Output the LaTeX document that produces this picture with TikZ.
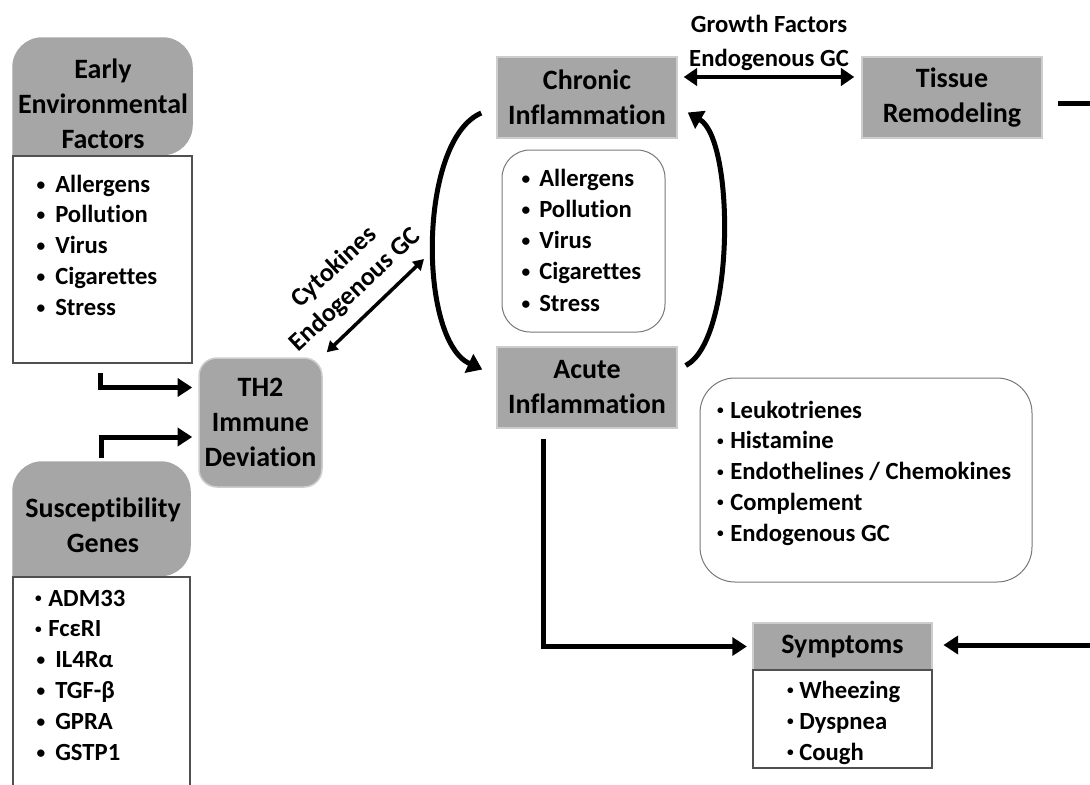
\documentclass[tikz,border=0pt]{standalone}
\usepackage{fontspec}
\setmainfont{Carlito}[Ligatures={NoCommon,NoContextual}]
\usetikzlibrary{arrows.meta,calc,backgrounds}
\newdimen\pxu \pxu=0.75pt
\definecolor{boxgray}{RGB}{166,166,166}
\definecolor{edgegray}{RGB}{205,205,205}
\definecolor{linegray}{RGB}{80,80,80}
\definecolor{softgray}{RGB}{120,120,120}
\newcommand\bigbul{\raisebox{1.4pt}{\fontsize{13}{13}\selectfont\textbullet}}
\newcommand\smallbul{\raisebox{2.6pt}{\fontsize{10}{10}\selectfont\textbullet}}
\begin{document}
\begin{tikzpicture}[x=0.75pt,y=-0.75pt,
  hdr/.style={font=\bfseries\fontsize{21}{26.25}\selectfont, align=center, inner sep=0},
  graybox/.style={hdr, fill=boxgray, draw=edgegray, line width=1.5\pxu, minimum width=180\pxu, minimum height=81\pxu},
  whitebox/.style={draw=linegray, line width=1.5\pxu, fill=white, inner sep=0},
  softbox/.style={draw=softgray, line width=1\pxu, inner sep=0},
  item/.style={font=\bfseries\fontsize{18.5}{22}\selectfont, anchor=base west, inner sep=0},
  lab/.style={font=\bfseries\fontsize{18.5}{25.5}\selectfont, align=center, inner sep=0},
  rlab/.style={font=\bfseries\fontsize{19.5}{23.25}\selectfont, align=center, inner sep=0},
  arr/.style={line width=5\pxu, -{Triangle[length=11pt,width=13.5pt]}},
  darr/.style={line width=4.5\pxu, {Triangle[length=10pt,width=13pt]}-{Triangle[length=10pt,width=13pt]}},
  thinarr/.style={line width=3.5\pxu, {Triangle[length=8pt,width=9pt]}-{Triangle[length=8pt,width=9pt]}},
  curvarr/.style={line width=5\pxu, -{Triangle[length=11pt,width=15pt]}},
  plainline/.style={line width=5\pxu}
]
\useasboundingbox (0,0) rectangle (1090,785);

% ---------- Early Environmental Factors ----------
\node[whitebox, minimum width=179\pxu, minimum height=207\pxu] (earlyB) at (102.5,259.5) {};
\node[hdr] (earlyH) at (103,104) {Early\\Environmental\\Factors};
\foreach \t [count=\i] in {Allergens,Pollution,Virus,Cigarettes,Stress}
  \node[item] (ee\i) at (55,{192+30.75*(\i-1)}) {\llap{\bigbul\kern10\pxu}\t};

% ---------- Susceptibility Genes ----------
\node[whitebox, minimum width=177\pxu, minimum height=226\pxu] (suscB) at (101.5,690) {};
\node[hdr] (suscH) at (103,525.5) {Susceptibility\\Genes};
\node[item] (sg1) at (48,606) {\llap{\smallbul\kern6.5\pxu}ADM33};
\node[item] (sg2) at (48,636.8) {\llap{\smallbul\kern6.5\pxu}FcεRI};
\foreach \t [count=\i from 3] in {IL4Rα, TGF-β, GPRA, GSTP1}
  \node[item] (sg\i) at (55,{606+30.8*(\i-1)}) {\llap{\bigbul\kern10\pxu}\t};

\begin{scope}[on background layer]
  \fill[boxgray] (earlyB.north west) [rounded corners=30\pxu] |- ($(earlyB.north)+(0,-118)$) -| (earlyB.north east) [sharp corners] -- cycle;
  \fill[boxgray] (suscB.north west) [rounded corners=30\pxu] |- ($(suscB.north)+(0,-115)$) -| (suscB.north east) [sharp corners] -- cycle;
\end{scope}

% ---------- TH2 ----------
\node[hdr, fill=boxgray, draw=edgegray, line width=1.5\pxu, rounded corners=18\pxu,
      minimum width=123\pxu, minimum height=129\pxu] (th2) at (260.5,422.5) {TH2\\Immune\\Deviation};

% ---------- Inflammation boxes ----------
\node[graybox] (chronic) at (587,97.5) {Chronic\\Inflammation};
\node[graybox] (acute) at (587,387.5) {Acute\\Inflammation};
\node[graybox] (tissue) at (952,97.5) {Tissue\\Remodeling};

% middle list
\node[softbox, rounded corners=28\pxu, minimum width=163\pxu, minimum height=182\pxu] (chlist) at (583.5,241) {};
\foreach \t [count=\i] in {Allergens,Pollution,Virus,Cigarettes,Stress}
  \node[item] (cl\i) at (539,{186+31.25*(\i-1)}) {\llap{\bigbul\kern9\pxu}\t};

% mediators list
\node[softbox, rounded corners=35\pxu, minimum width=332\pxu, minimum height=204\pxu] (leuk) at (866,480) {};
\foreach \t [count=\i] in {Leukotrienes,Histamine,{Endothelines / Chemokines},Complement,Endogenous GC}
  \node[item] (lk\i) at (730,{418+30.75*(\i-1)}) {\llap{\smallbul\kern6.5\pxu}\t};

% ---------- Symptoms ----------
\node[hdr, fill=boxgray, draw=edgegray, line width=1.5\pxu, minimum width=179\pxu, minimum height=47\pxu] (sympH) at (842.5,646.5) {Symptoms};
\node[whitebox, minimum width=179\pxu, minimum height=98\pxu] (sympB) at (842.5,719) {};
\foreach \t [count=\i] in {Wheezing,Dyspnea,Cough}
  \node[item] (sy\i) at (799,{698+31*(\i-1)}) {\llap{\smallbul\kern5.5\pxu}\t};

% ---------- labels ----------
\node[lab] (gflab) at (769,43) {Growth Factors\\Endogenous GC};
\node[rlab, rotate=42.8] (cylab) at (345,279) {Cytokines\\Endogenous GC};

% ---------- connectors ----------
\coordinate (cytend) at (424,259);
\coordinate (re1) at (1095,103);
\coordinate (re2) at (1095,645);

\draw[arr, shorten >=4.5pt] ([shift={(-2,9)}]earlyB.south) |- ([shift={(0,-35)}]th2.west);
\draw[arr, shorten >=4.5pt] ([shift={(-2,-3)}]suscH.south |- suscB.north) ++(0,-115) |- ([shift={(0,14.5)}]th2.west);
\draw[thinarr] ([shift={(4,-5)}]th2.north east) -- (cytend);
\draw[darr] ([shift={(6,-20.5)}]chronic.east) -- ([shift={(-7,-20.5)}]tissue.west);
\draw[curvarr] ([shift={(-15,15.5)}]chronic.west) .. controls (418,140) and (418,340) .. ([shift={(-14,-18)}]acute.west);
\draw[curvarr] ([shift={(8,-22)}]acute.east) .. controls (735,340) and (735,140) .. ([shift={(10,15)}]chronic.east);
\draw[arr, shorten >=4pt] ([shift={(-44,10)}]acute.south) |- (sympH.west);
\draw[plainline] ([shift={(15,5.5)}]tissue.east) -- (re1);
\draw[arr, shorten >=8pt] (re2) -- (sympH.east |- re2);
\end{tikzpicture}
\end{document}
